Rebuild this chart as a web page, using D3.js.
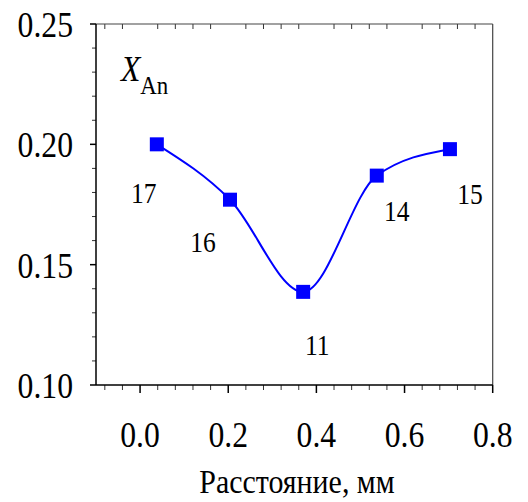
<!DOCTYPE html>
<html>
<head>
<meta charset="utf-8">
<script src="https://cdn.jsdelivr.net/npm/d3@7"></script>
<style>
  body { margin: 0; background: #fff; }
</style>
</head>
<body>
<div id="plot"></div>
<script>
// chart data
const distance = [0.038, 0.204, 0.370, 0.537, 0.703];
const xAn = [0.200, 0.177, 0.1387, 0.187, 0.198];
const sampleLabels = ["17", "16", "11", "14", "15"];
// label offsets from the point (px)
const labelDx = [-13, -27, 14, 20, 20];
const labelDy = [59, 52, 63, 45, 55];

const xTicks = [0.0, 0.2, 0.4, 0.6, 0.8];
const yTicks = [0.10, 0.15, 0.20, 0.25];

const w = 528;
const h = 502;
const margin = {top: 24, right: 35.3, bottom: 117, left: 96};
const innerWidth = w - margin.left - margin.right;
const innerHeight = h - margin.top - margin.bottom;
const squeeze = 0.88;

const svg = d3.select("div#plot")
  .append("svg")
    .attr("width", w)
    .attr("height", h)
    .attr("font-family", "Liberation Serif");

const plot = svg.append("g")
  .attr("transform", `translate(${margin.left}, ${margin.top})`);

const xScale = d3.scaleLinear()
  .domain([-0.1, 0.8])
  .range([0, innerWidth]);

const yScale = d3.scaleLinear()
  .domain([0.10, 0.25])
  .range([innerHeight, 0]);

// text helper, condensed like the original
function label(parent, x, y, str, size, anchor) {
  return parent.append("text")
    .attr("transform", `translate(${x}, ${y}) scale(${squeeze}, 1)`)
    .attr("font-family", "Liberation Serif")
    .attr("font-size", size)
    .attr("fill", "#000")
    .attr("text-anchor", anchor)
    .text(str);
}

// minor ticks
const xMinor = d3.range(-0.08, 0.8, 0.04).filter(v => Math.abs(v / 0.2 - Math.round(v / 0.2)) > 1e-6);
const yMinor = d3.range(0.11, 0.25, 0.01).filter(v => Math.abs(v / 0.05 - Math.round(v / 0.05)) > 1e-6);

// bottom axis ticks (outside)
plot.selectAll("line.xmajor")
  .data(xTicks)
  .enter()
  .append("line")
  .attr("x1", d => xScale(d)).attr("x2", d => xScale(d))
  .attr("y1", innerHeight).attr("y2", innerHeight + 8)
  .attr("stroke", "#000").attr("stroke-width", 1.5);

plot.selectAll("line.xminor")
  .data(xMinor)
  .enter()
  .append("line")
  .attr("x1", d => xScale(d)).attr("x2", d => xScale(d))
  .attr("y1", innerHeight).attr("y2", innerHeight + 5)
  .attr("stroke", "#333").attr("stroke-width", 1);

// top axis ticks (inside, minor only)
plot.selectAll("line.xtop")
  .data(xMinor)
  .enter()
  .append("line")
  .attr("x1", d => xScale(d)).attr("x2", d => xScale(d))
  .attr("y1", 0).attr("y2", 5)
  .attr("stroke", "#333").attr("stroke-width", 1);

// left axis ticks (outside)
plot.selectAll("line.ymajor")
  .data(yTicks)
  .enter()
  .append("line")
  .attr("x1", -6).attr("x2", 0)
  .attr("y1", d => yScale(d)).attr("y2", d => yScale(d))
  .attr("stroke", "#000").attr("stroke-width", 1.5);

plot.selectAll("line.yminor")
  .data(yMinor)
  .enter()
  .append("line")
  .attr("x1", -4).attr("x2", 0)
  .attr("y1", d => yScale(d)).attr("y2", d => yScale(d))
  .attr("stroke", "#333").attr("stroke-width", 1);

// frame
plot.append("line")
  .attr("x1", 0).attr("x2", innerWidth).attr("y1", 0).attr("y2", 0)
  .attr("stroke", "#444").attr("stroke-width", 1.2);
plot.append("line")
  .attr("x1", innerWidth).attr("x2", innerWidth).attr("y1", 0).attr("y2", innerHeight)
  .attr("stroke", "#444").attr("stroke-width", 1.2);
plot.append("line")
  .attr("x1", 0).attr("x2", innerWidth).attr("y1", innerHeight).attr("y2", innerHeight)
  .attr("stroke", "#000").attr("stroke-width", 1.5);
plot.append("line")
  .attr("x1", 0).attr("x2", 0).attr("y1", 0).attr("y2", innerHeight)
  .attr("stroke", "#000").attr("stroke-width", 1.5);

// tick labels
xTicks.forEach(d => label(plot, xScale(d), innerHeight + 62, d3.format(".1f")(d), 36, "middle"));
yTicks.forEach(d => label(plot, -23, yScale(d) + 13, d3.format(".2f")(d), 36, "end"));

// axis title
label(svg, 297, 493, "Расстояние, мм", 34, "middle");

// series name
const nm = label(plot, 25, 57, "", 36, "start");
nm.append("tspan").attr("font-style", "italic").text("X");
nm.append("tspan").attr("dy", 13).attr("font-size", 26).text("An");

// curve
const points = distance.map((d, i) => [xScale(d), yScale(xAn[i])]);
plot.append("path")
  .datum(points)
  .attr("fill", "none")
  .attr("stroke", "#0000ff")
  .attr("stroke-width", 2)
  .attr("d", d3.line().curve(d3.curveMonotoneX));

// markers
const size = 14;
plot.selectAll("rect.marker")
  .data(distance)
  .enter()
  .append("rect")
  .attr("x", d => xScale(d) - size / 2)
  .attr("y", (d, i) => yScale(xAn[i]) - size / 2)
  .attr("width", size)
  .attr("height", size)
  .attr("fill", "#0000ff");

// sample labels
distance.forEach((d, i) => {
  label(plot, xScale(d) + labelDx[i], yScale(xAn[i]) + labelDy[i], sampleLabels[i], 29, "middle");
});
</script>
</body>
</html>
